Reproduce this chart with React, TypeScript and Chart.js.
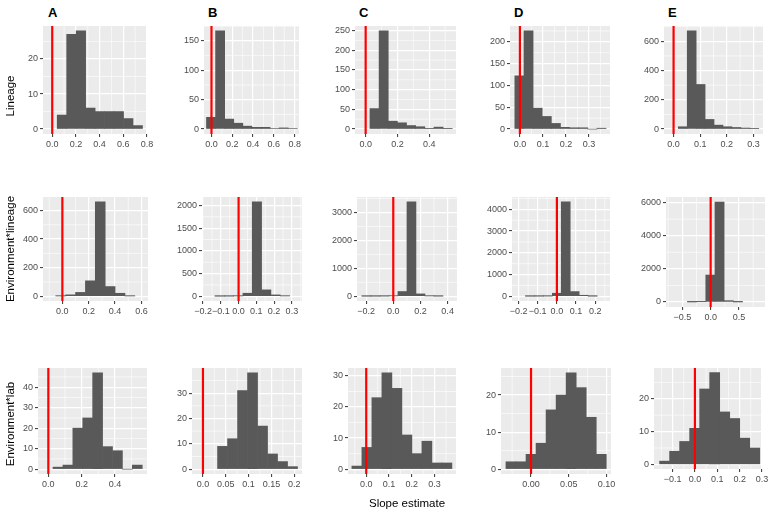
import React, { useEffect, useRef } from "react";
import { Chart, registerables } from "chart.js";
Chart.register(...registerables);

const FONT = "'Liberation Sans', Arial, Helvetica, sans-serif";

// ---------- text ----------
const panelTags = ["A", "B", "C", "D", "E"];
const rowLabels = ["Lineage", "Environment*lineage", "Environment*lab"];
const xAxisTitle = "Slope estimate";

// ---------- Row 1: Lineage ----------
const linA_bins = [0.082, 0.162, 0.242, 0.322, 0.402, 0.482, 0.562, 0.642, 0.722];
const linA_counts = [4, 27, 28, 6, 5, 5, 5, 3, 1];
const linA_xlim = [-0.078, 0.8];
const linA_xticks = ["0.0", "0.2", "0.4", "0.6", "0.8"];
const linA_yticks = ["0", "10", "20"];

const linB_bins = [-0.0043, 0.0831, 0.1705, 0.2579, 0.3453, 0.4327, 0.5201, 0.6075, 0.6949, 0.7823];
const linB_counts = [20, 167, 17, 10, 5, 3, 3, 1, 2, 1];
const linB_xlim = [-0.072, 0.842];
const linB_xticks = ["0.0", "0.2", "0.4", "0.6", "0.8"];
const linB_yticks = ["0", "50", "100", "150"];

const linC_bins = [0.05575, 0.11325, 0.17075, 0.22825, 0.28575, 0.34325, 0.40075, 0.45825, 0.51575];
const linC_counts = [52, 249, 20, 16, 9, 6, 1, 5, 1];
const linC_xlim = [-0.067, 0.568];
const linC_xticks = ["0.0", "0.2", "0.4"];
const linC_yticks = ["0", "50", "100", "150", "200", "250"];

const linD_bins = [-0.0022, 0.0374, 0.077, 0.1166, 0.1562, 0.1958, 0.2354, 0.275, 0.3146, 0.3542];
const linD_counts = [122, 225, 48, 29, 13, 4, 3, 3, 0, 2];
const linD_xlim = [-0.043, 0.391];
const linD_xticks = ["0.0", "0.1", "0.2", "0.3"];
const linD_yticks = ["0", "50", "100", "150", "200"];

const linE_bins = [0.0344, 0.068, 0.1016, 0.1352, 0.1688, 0.2024, 0.236, 0.2696, 0.3032];
const linE_counts = [16, 671, 305, 66, 27, 16, 11, 7, 3];
const linE_xlim = [-0.036, 0.336];
const linE_xticks = ["0.0", "0.1", "0.2", "0.3"];
const linE_yticks = ["0", "200", "400", "600"];

// ---------- Row 2: Environment*lineage ----------
const elinA_bins = [-0.0125, 0.0625, 0.1375, 0.2125, 0.2875, 0.3625, 0.4375, 0.5125];
const elinA_counts = [2, 10, 27, 108, 661, 68, 21, 2];
const elinA_xlim = [-0.147, 0.65];
const elinA_xticks = ["0.0", "0.2", "0.4", "0.6"];
const elinA_yticks = ["0", "200", "400", "600"];

const elinB_bins = [-0.1068, -0.0543, -0.0018, 0.0507, 0.1032, 0.1557, 0.2082, 0.2607];
const elinB_counts = [1, 2, 7, 67, 2081, 141, 30, 7];
const elinB_xlim = [-0.206, 0.357];
const elinB_xticks = ["−0.2", "−0.1", "0.0", "0.1", "0.2", "0.3"];
const elinB_yticks = ["0", "500", "1000", "1500", "2000"];

const elinC_bins = [-0.1978, -0.1315, -0.0652, 0.0011, 0.0674, 0.1337, 0.2, 0.2663, 0.3326];
const elinC_counts = [1, 2, 5, 15, 170, 3386, 85, 12, 3];
const elinC_xlim = [-0.267, 0.469];
const elinC_xticks = ["−0.2", "0.0", "0.2", "0.4"];
const elinC_yticks = ["0", "1000", "2000", "3000"];

const elinD_bins = [-0.1406, -0.0939, -0.0472, -0.0005, 0.0462, 0.0929, 0.1396, 0.1863];
const elinD_counts = [1, 3, 8, 139, 4352, 216, 46, 3];
const elinD_xlim = [-0.234, 0.277];
const elinD_xticks = ["−0.2", "−0.1", "0.0", "0.1", "0.2"];
const elinD_yticks = ["0", "1000", "2000", "3000", "4000"];

const elinE_bins = [-0.329, -0.167, -0.005, 0.157, 0.319, 0.481];
const elinE_counts = [2, 20, 1626, 6036, 81, 3];
const elinE_xlim = [-0.788, 0.959];
const elinE_xticks = ["−0.5", "0.0", "0.5"];
const elinE_yticks = ["0", "2000", "4000", "6000"];

// ---------- Row 3: Environment*lab ----------
const elabA_bins = [0.05775, 0.11725, 0.17675, 0.23625, 0.29575, 0.35525, 0.41475, 0.47425, 0.53375];
const elabA_counts = [1, 2, 20, 25, 47, 11, 9, 0, 2];
const elabA_xlim = [-0.062, 0.592];
const elabA_xticks = ["0.0", "0.2", "0.4"];
const elabA_yticks = ["0", "10", "20", "30", "40"];

const elabB_bins = [0.04295, 0.06485, 0.08675, 0.10865, 0.13055, 0.15245, 0.17435, 0.19625];
const elabB_counts = [9, 12, 31, 38, 17, 6, 3, 1];
const elabB_xlim = [-0.024, 0.217];
const elabB_xticks = ["0.0", "0.05", "0.1", "0.15", "0.2"];
const elabB_yticks = ["0", "10", "20", "30"];

const elabC_bins = [-0.04105, 0.00285, 0.04675, 0.09065, 0.13455, 0.17845, 0.22235, 0.26625, 0.31015, 0.35405];
const elabC_counts = [1, 7, 23, 31, 26, 11, 5, 9, 2, 2];
const elabC_xlim = [-0.08, 0.394];
const elabC_xticks = ["0.0", "0.1", "0.2", "0.3"];
const elabC_yticks = ["0", "10", "20", "30"];

const elabD_bins = [-0.0266, -0.0133, 0, 0.0133, 0.0266, 0.0399, 0.0532, 0.0665, 0.0798, 0.0931];
const elabD_counts = [2, 2, 4, 7, 16, 20, 26, 22, 14, 4];
const elabD_xlim = [-0.0398, 0.106];
const elabD_xticks = ["0.00", "0.05", "0.10"];
const elabD_yticks = ["0", "10", "20"];

const elabE_bins = [-0.1356, -0.0908, -0.046, -0.0012, 0.0436, 0.0884, 0.1332, 0.178, 0.2228, 0.2676];
const elabE_counts = [1, 4, 7, 11, 23, 28, 16, 14, 8, 5];
const elabE_xlim = [-0.183, 0.3];
const elabE_xticks = ["−0.1", "0.0", "0.1", "0.2", "0.3"];
const elabE_yticks = ["0", "10", "20"];

const refLine = 0;

// ---------- layout (plot-area frames in page pixels) ----------
const frames = [
  [
    { l: 43, r: 147, t: 26, b: 134 },
    { l: 204, r: 299, t: 26, b: 134 },
    { l: 355, r: 456, t: 26, b: 134 },
    { l: 510, r: 610, t: 26, b: 134 },
    { l: 664, r: 763, t: 26, b: 134 },
  ],
  [
    { l: 43, r: 148, t: 197, b: 301 },
    { l: 202, r: 302, t: 197, b: 301 },
    { l: 357, r: 457, t: 197, b: 301 },
    { l: 512, r: 610, t: 197, b: 301 },
    { l: 666, r: 765, t: 197, b: 307 },
  ],
  [
    { l: 38, r: 147, t: 368, b: 474 },
    { l: 192, r: 302, t: 368, b: 474 },
    { l: 348, r: 456, t: 368, b: 474 },
    { l: 501, r: 611, t: 368, b: 474 },
    { l: 654, r: 762, t: 368, b: 469 },
  ],
];

const panelData = [
  [
    [linA_bins, linA_counts, linA_xlim, linA_xticks, linA_yticks],
    [linB_bins, linB_counts, linB_xlim, linB_xticks, linB_yticks],
    [linC_bins, linC_counts, linC_xlim, linC_xticks, linC_yticks],
    [linD_bins, linD_counts, linD_xlim, linD_xticks, linD_yticks],
    [linE_bins, linE_counts, linE_xlim, linE_xticks, linE_yticks],
  ],
  [
    [elinA_bins, elinA_counts, elinA_xlim, elinA_xticks, elinA_yticks],
    [elinB_bins, elinB_counts, elinB_xlim, elinB_xticks, elinB_yticks],
    [elinC_bins, elinC_counts, elinC_xlim, elinC_xticks, elinC_yticks],
    [elinD_bins, elinD_counts, elinD_xlim, elinD_xticks, elinD_yticks],
    [elinE_bins, elinE_counts, elinE_xlim, elinE_xticks, elinE_yticks],
  ],
  [
    [elabA_bins, elabA_counts, elabA_xlim, elabA_xticks, elabA_yticks],
    [elabB_bins, elabB_counts, elabB_xlim, elabB_xticks, elabB_yticks],
    [elabC_bins, elabC_counts, elabC_xlim, elabC_xticks, elabC_yticks],
    [elabD_bins, elabD_counts, elabD_xlim, elabD_xticks, elabD_yticks],
    [elabE_bins, elabE_counts, elabE_xlim, elabE_xticks, elabE_yticks],
  ],
];

const YW = 36; // y axis box width
const PR = 14; // right padding
const PT = 4; // top padding
const XH = 22; // x axis box height

const parseTick = (s: string) => Number(s.replace("−", "-"));

function minorBreaks(majors: number[], lo: number, hi: number) {
  const step = majors.length > 1 ? majors[1] - majors[0] : 1;
  const out: number[] = [];
  for (let v = majors[0] - step / 2; v <= hi + 1e-12; v += step) {
    if (v >= lo) out.push(v);
  }
  return out;
}

function makeChart(canvas: HTMLCanvasElement, d: any[]) {
  const [bins, counts, xlim, xticks, yticks] = d;
  const xs = (xticks as string[]).map(parseTick);
  const ys = (yticks as string[]).map(parseTick);
  const maxC = Math.max(...counts);
  const yMin = -0.05 * maxC;
  const yMax = 1.05 * maxC;
  const xMinor = minorBreaks(xs, xlim[0], xlim[1]);
  const yMinor = minorBreaks(ys, yMin, yMax);

  const decor = {
    id: "panelDecor",
    beforeDraw(chart: any) {
      const { ctx, chartArea: a, scales } = chart;
      ctx.save();
      ctx.fillStyle = "#EBEBEB";
      ctx.fillRect(a.left, a.top, a.right - a.left, a.bottom - a.top);
      ctx.strokeStyle = "#FFFFFF";
      ctx.lineWidth = 0.6;
      ctx.beginPath();
      xMinor.forEach((v) => {
        const px = scales.x.getPixelForValue(v);
        ctx.moveTo(px, a.top);
        ctx.lineTo(px, a.bottom);
      });
      yMinor.forEach((v) => {
        const py = scales.y.getPixelForValue(v);
        ctx.moveTo(a.left, py);
        ctx.lineTo(a.right, py);
      });
      ctx.stroke();
      ctx.restore();
    },
    afterDatasetsDraw(chart: any) {
      const { ctx, chartArea: a, scales } = chart;
      const px = scales.x.getPixelForValue(refLine);
      ctx.save();
      ctx.strokeStyle = "#FF0000";
      ctx.lineWidth = 2.2;
      ctx.beginPath();
      ctx.moveTo(px, a.top);
      ctx.lineTo(px, a.bottom);
      ctx.stroke();
      ctx.restore();
    },
  };

  const tickFont = { family: FONT, size: 9 };

  return new Chart(canvas, {
    type: "bar",
    data: {
      datasets: [
        {
          data: (bins as number[]).map((b, i) => ({ x: b, y: counts[i] })),
          backgroundColor: "#595959",
          borderWidth: 0,
          barPercentage: 1,
          categoryPercentage: 1,
        },
      ],
    },
    options: {
      animation: false,
      responsive: false,
      maintainAspectRatio: false,
      events: [],
      layout: { padding: { left: 0, right: PR, top: PT, bottom: 0 } },
      plugins: { legend: { display: false }, tooltip: { enabled: false }, title: { display: false } },
      scales: {
        x: {
          type: "linear",
          min: xlim[0],
          max: xlim[1],
          bounds: "data",
          offset: false,
          grid: {
            offset: false,
            color: "#FFFFFF",
            lineWidth: 1.2,
            drawTicks: true,
            tickLength: 3,
            tickColor: "#333333",
            tickWidth: 1,
          },
          border: { display: false },
          ticks: {
            color: "#4D4D4D",
            font: tickFont,
            padding: 2,
            autoSkip: false,
            maxRotation: 0,
            minRotation: 0,
            callback: (_v: any, i: number) => xticks[i],
          },
          afterBuildTicks: (s: any) => {
            s.ticks = xs.map((v) => ({ value: v }));
          },
          afterFit: (s: any) => {
            s.height = XH;
            s.paddingLeft = 0;
            s.paddingRight = 0;
            s.paddingTop = 0;
            s.paddingBottom = 0;
          },
        },
        y: {
          type: "linear",
          min: yMin,
          max: yMax,
          bounds: "data",
          grid: {
            color: "#FFFFFF",
            lineWidth: 1.2,
            drawTicks: true,
            tickLength: 3,
            tickColor: "#333333",
            tickWidth: 1,
          },
          border: { display: false },
          ticks: {
            color: "#4D4D4D",
            font: tickFont,
            padding: 2,
            autoSkip: false,
            callback: (_v: any, i: number) => yticks[i],
          },
          afterBuildTicks: (s: any) => {
            s.ticks = ys.map((v) => ({ value: v }));
          },
          afterFit: (s: any) => {
            s.width = YW;
            s.paddingLeft = 0;
            s.paddingRight = 0;
            s.paddingTop = 0;
            s.paddingBottom = 0;
          },
        },
      },
    },
    plugins: [decor],
  } as any);
}

function HistPanel({ frame, data }: { frame: any; data: any[] }) {
  const ref = useRef<HTMLCanvasElement>(null);
  const w = frame.r - frame.l + YW + PR;
  const h = frame.b - frame.t + PT + XH;
  useEffect(() => {
    if (!ref.current) return;
    const chart = makeChart(ref.current, data);
    return () => chart.destroy();
  }, []);
  return (
    <canvas
      ref={ref}
      width={w}
      height={h}
      style={{ position: "absolute", left: frame.l - YW, top: frame.t - PT, width: w, height: h }}
    />
  );
}

const rowLabelCenters = [96, 249, 424];
const tagLefts = [48, 208, 359, 514, 668];

export default function App() {
  return (
    <div
      style={{
        position: "absolute",
        left: 0,
        top: 0,
        width: 771,
        height: 514,
        background: "#FFFFFF",
        fontFamily: FONT,
        overflow: "hidden",
      }}
    >
      {frames.map((row, ri) =>
        row.map((f, ci) => <HistPanel key={ri + "-" + ci} frame={f} data={panelData[ri][ci]} />)
      )}
      {panelTags.map((t, i) => (
        <div
          key={t}
          style={{
            position: "absolute",
            left: tagLefts[i],
            top: 6,
            fontSize: 13,
            fontWeight: "bold",
            lineHeight: "13px",
            color: "#000",
          }}
        >
          {t}
        </div>
      ))}
      {rowLabels.map((t, i) => (
        <div
          key={t}
          style={{
            position: "absolute",
            left: 10,
            top: rowLabelCenters[i],
            transform: "translate(-50%, -50%) rotate(-90deg)",
            fontSize: 11.5,
            lineHeight: "12px",
            whiteSpace: "nowrap",
            color: "#000",
          }}
        >
          {t}
        </div>
      ))}
      <div
        style={{
          position: "absolute",
          left: 407,
          top: 503,
          transform: "translate(-50%, -50%)",
          fontSize: 11.5,
          lineHeight: "12px",
          whiteSpace: "nowrap",
          color: "#000",
        }}
      >
        {xAxisTitle}
      </div>
    </div>
  );
}
